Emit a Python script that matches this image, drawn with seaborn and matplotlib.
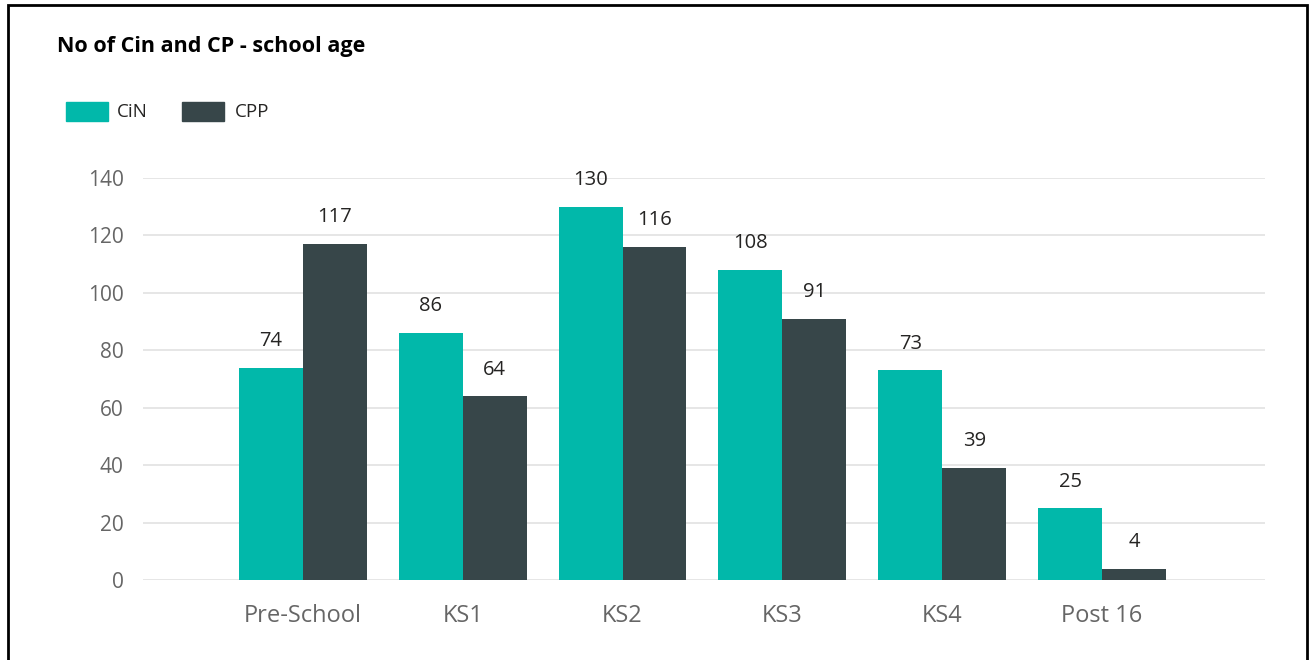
"""
No of CiN and CP by school age - grouped bar chart
"""
import pandas as pd
import seaborn as sns
import matplotlib.pyplot as plt
from matplotlib.patches import Rectangle

stages = ["Pre-School", "KS1", "KS2", "KS3", "KS4", "Post 16"]
cin = [74, 86, 130, 108, 73, 25]
cpp = [117, 64, 116, 91, 39, 4]
series = ["CiN", "CPP"]
colors = {"CiN": "#01B8AA", "CPP": "#374649"}

sns.set_theme(style="white")
plt.rcParams["font.family"] = ["Open Sans", "DejaVu Sans"]

df = pd.DataFrame({
    "stage": stages * 2,
    "value": cin + cpp,
    "series": ["CiN"] * len(stages) + ["CPP"] * len(stages),
})

fig = plt.figure(figsize=(13.11, 6.6), dpi=100)
ax = fig.add_axes([0.1091, 0.1212, 0.8559, 0.6091])

sns.barplot(df, x="stage", y="value", hue="series", hue_order=series,
            palette=colors, width=0.8, saturation=1, linewidth=0, ax=ax, legend=False)

for c in ax.containers:
    ax.bar_label(c, padding=12, fontsize=14.5, color="#252423")

ax.set_ylim(0, 140)
ax.set_yticks(range(0, 141, 20))
ax.set_xlim(-1, 6.02)
ax.yaxis.grid(True, color="#E1E1E1", lw=1.2)
ax.set_axisbelow(True)
sns.despine(ax=ax, left=True, bottom=True)
ax.tick_params(axis="both", length=0, labelsize=15, labelcolor="#666666")
ax.tick_params(axis="x", labelsize=17, pad=17)
ax.tick_params(axis="y", pad=14)
ax.set_xlabel("")
ax.set_ylabel("")

fig.text(0.0435, 0.93, "No of Cin and CP - school age", fontsize=15.5,
         fontweight="bold", color="#000000", va="center")

# legend
for name, x0, tx in [("CiN", 0.0503, 0.0893), ("CPP", 0.1388, 0.1793)]:
    fig.add_artist(Rectangle((x0, 0.816), 0.032, 0.030, color=colors[name],
                             transform=fig.transFigure))
    fig.text(tx, 0.831, name, fontsize=13.5, color="#252423", va="center")

# frame around the card
fig.add_artist(Rectangle((0.0061, -0.1), 0.9905, 1.093, fill=False,
                         edgecolor="black", lw=2, transform=fig.transFigure))

fig.savefig("out.png", dpi=100)
